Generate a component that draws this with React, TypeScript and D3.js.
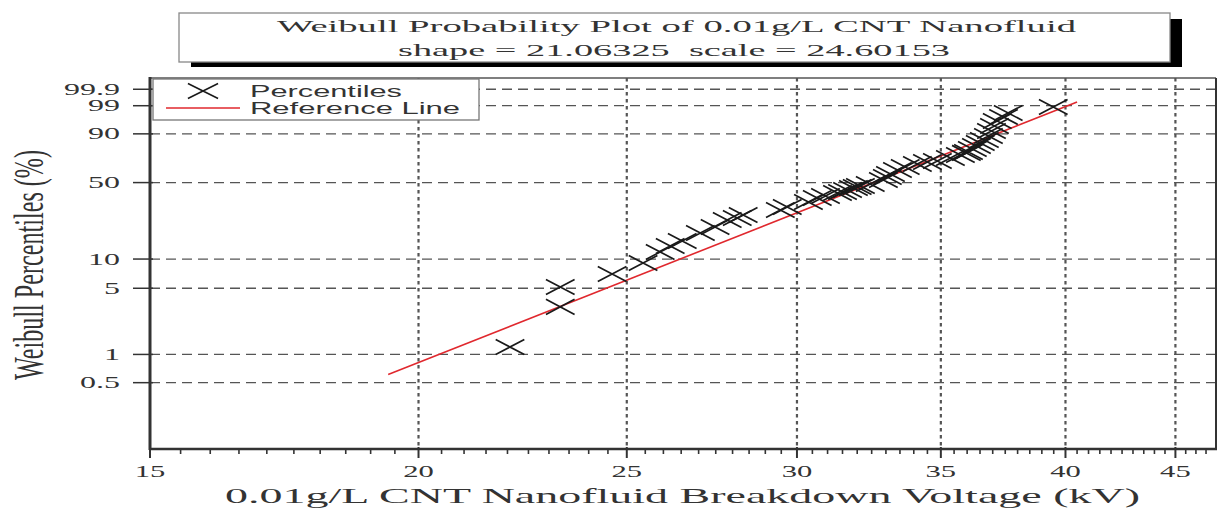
import React from 'react';
import * as d3 from 'd3';

const titleLine1 = 'Weibull Probability Plot of 0.01g/L CNT Nanofluid';
const titleLine2 = 'shape = 21.06325  scale = 24.60153';
const xLabel = '0.01g/L CNT Nanofluid Breakdown Voltage (kV)';
const yLabel = 'Weibull Percentiles (%)';
const legendLabels = ['Percentiles', 'Reference Line'];

const xTickValues = [15, 20, 25, 30, 35, 40, 45];
const xTickLabels = ['15', '20', '25', '30', '35', '40', '45'];
const yTickValues = [0.5, 1, 5, 10, 50, 90, 99, 99.9];
const yTickLabels = ['0.5', '1', '5', '10', '50', '90', '99', '99.9'];

// breakdown voltages (kV) and their Weibull percentiles (%)
const voltages = [
  22.06, 23.28, 23.28, 24.61, 25.44, 25.91, 26.19, 26.53, 27.05, 27.48,
  27.84, 28.14, 28.32, 29.47, 29.69, 30.37, 30.66, 30.93, 31.33, 31.5,
  31.67, 31.87, 32.0, 32.11, 32.45, 32.91, 33.05, 33.16, 33.41, 33.69,
  34.13, 34.5, 34.87, 35.36, 35.74, 35.97, 36.05, 36.2, 36.36, 36.51,
  36.67, 36.83, 36.95, 37.07, 37.18, 37.43, 37.62, 39.48,
];
const percentiles = [
  1.2, 3.19, 5.16, 7.03, 9.13, 11.8, 13.53, 15.17, 18.15, 20.73,
  24.13, 25.18, 26.82, 29.75, 31.63, 34.95, 37.79, 39.26, 41.54, 42.3,
  43.9, 45.51, 46.3, 47.17, 48.84, 52.26, 54.89, 57.57, 61.19, 63.9,
  66.61, 68.4, 69.31, 71.95, 74.56, 76.3, 77.1, 79.55, 81.9, 84.12,
  86.22, 88.76, 91.57, 93.9, 95.78, 96.96, 97.88, 98.85,
];

const refLineVoltages = [19.36, 40.5];
const refLinePercentiles = [0.61, 99.36];

const W = 1221;
const H = 513;
const L = 150, R = 1216, T = 78, B = 449;

const weib = (p: number) => Math.log(-Math.log(1 - p / 100));

export default function App() {
  const x = d3.scaleLog().domain([15, 47]).range([L, R]);
  const yw = d3.scaleLinear().domain([-6.93, 2.21]).range([B, T]);
  const y = (p: number) => yw(weib(p));

  const minorTicks = d3.range(15.5, 47, 0.5).filter((v) => Math.abs(v / 5 - Math.round(v / 5)) > 1e-6);

  const refPts: [number, number][] = refLineVoltages.map((v, i) => [x(v), y(refLinePercentiles[i])]);
  const refPath = d3.line()(refPts) || '';

  const xMarker = d3.symbol().type(d3.symbolX).size(150)() || '';

  const serif = '"Liberation Serif", "DejaVu Serif", serif';
  const sans = '"Liberation Sans", Arial, sans-serif';

  return (
    <svg
      width={W}
      height={H}
      viewBox={`0 0 ${W} ${H}`}
      style={{ position: 'absolute', left: 0, top: 0, background: '#fff' }}
    >
      <rect x={0} y={0} width={W} height={H} fill="#fff" />

      {/* horizontal dashed gridlines */}
      {yTickValues.map((p, i) => (
        <line key={'hg' + i} x1={L} x2={R} y1={y(p)} y2={y(p)} stroke="#555" strokeWidth={1.3} strokeDasharray="10,6" />
      ))}
      {/* vertical dotted gridlines */}
      {xTickValues.slice(1).map((v, i) => (
        <line key={'vg' + i} x1={x(v)} x2={x(v)} y1={T} y2={B} stroke="#555" strokeWidth={2.2} strokeDasharray="3.5,3.5" />
      ))}

      {/* frame */}
      <line x1={L} x2={R} y1={T} y2={T} stroke="#555" strokeWidth={1.5} />
      <line x1={R} x2={R} y1={T} y2={B} stroke="#333" strokeWidth={2} />
      <line x1={L} x2={R + 1} y1={B} y2={B} stroke="#333" strokeWidth={2.5} />
      <line x1={L} x2={L} y1={T - 1} y2={B + 1} stroke="#333" strokeWidth={3} />

      {/* x ticks */}
      {xTickValues.map((v, i) => (
        <g key={'xt' + i}>
          <line x1={x(v)} x2={x(v)} y1={B - 2} y2={B + 9} stroke="#333" strokeWidth={2} />
          <text
            transform={`translate(${x(v)},477) scale(1.8,1)`}
            textAnchor="middle"
            fontFamily={serif}
            fontSize={17}
            fill="#333"
          >
            {xTickLabels[i]}
          </text>
        </g>
      ))}
      {minorTicks.map((v, i) => (
        <line key={'mt' + i} x1={x(v)} x2={x(v)} y1={B} y2={B + 5} stroke="#333" strokeWidth={1.6} />
      ))}

      {/* y ticks */}
      {yTickValues.map((p, i) => (
        <g key={'yt' + i}>
          <line x1={133} x2={L + 3} y1={y(p)} y2={y(p)} stroke="#333" strokeWidth={1.5} />
          <text
            transform={`translate(120,${y(p) + 5.5}) scale(2,1)`}
            textAnchor="end"
            fontFamily={serif}
            fontSize={16}
            fill="#333"
          >
            {yTickLabels[i]}
          </text>
        </g>
      ))}

      {/* reference line */}
      <path d={refPath} fill="none" stroke="#e0282e" strokeWidth={1.6} />

      {/* percentile markers */}
      {voltages.map((v, i) => (
        <path
          key={'pt' + i}
          d={xMarker}
          transform={`translate(${x(v)},${y(percentiles[i])}) scale(1.9,1)`}
          fill="none"
          stroke="#1a1a1a"
          strokeWidth={1.7}
          vectorEffect="non-scaling-stroke"
        />
      ))}

      {/* axis titles */}
      <text
        x={225}
        y={503}
        textLength={915}
        lengthAdjust="spacingAndGlyphs"
        fontFamily={serif}
        fontSize={21}
        fill="#333"
      >
        {xLabel}
      </text>
      <text
        transform="translate(43,265) rotate(-90) scale(1,1.9)"
        textAnchor="middle"
        textLength={230}
        lengthAdjust="spacingAndGlyphs"
        fontFamily={serif}
        fontSize={22}
        fill="#333"
      >
        {yLabel}
      </text>

      {/* legend */}
      <rect x={153} y={79} width={326} height={41} fill="#fff" stroke="#777" strokeWidth={1.3} />
      <path
        d={xMarker}
        transform="translate(203,91) scale(2,1)"
        fill="none"
        stroke="#1a1a1a"
        strokeWidth={1.6}
        vectorEffect="non-scaling-stroke"
      />
      <line x1={166} x2={240} y1={108} y2={108} stroke="#e0282e" strokeWidth={1.6} />
      <text x={250} y={97} textLength={152} lengthAdjust="spacingAndGlyphs" fontFamily={sans} fontSize={16} fill="#333">
        {legendLabels[0]}
      </text>
      <text x={250} y={114} textLength={210} lengthAdjust="spacingAndGlyphs" fontFamily={sans} fontSize={16} fill="#333">
        {legendLabels[1]}
      </text>

      {/* title box */}
      <rect x={191} y={19} width={991} height={48} fill="#000" />
      <rect x={179} y={13} width={991} height={49} fill="#fff" stroke="#888" strokeWidth={1.3} />
      <text x={277} y={32} textLength={799} lengthAdjust="spacingAndGlyphs" fontFamily={serif} fontSize={17} fill="#333">
        {titleLine1}
      </text>
      <text
        x={398}
        y={56}
        textLength={552}
        lengthAdjust="spacingAndGlyphs"
        fontFamily={serif}
        fontSize={17}
        fill="#333"
        style={{ whiteSpace: 'pre' }}
      >
        {titleLine2}
      </text>
    </svg>
  );
}
